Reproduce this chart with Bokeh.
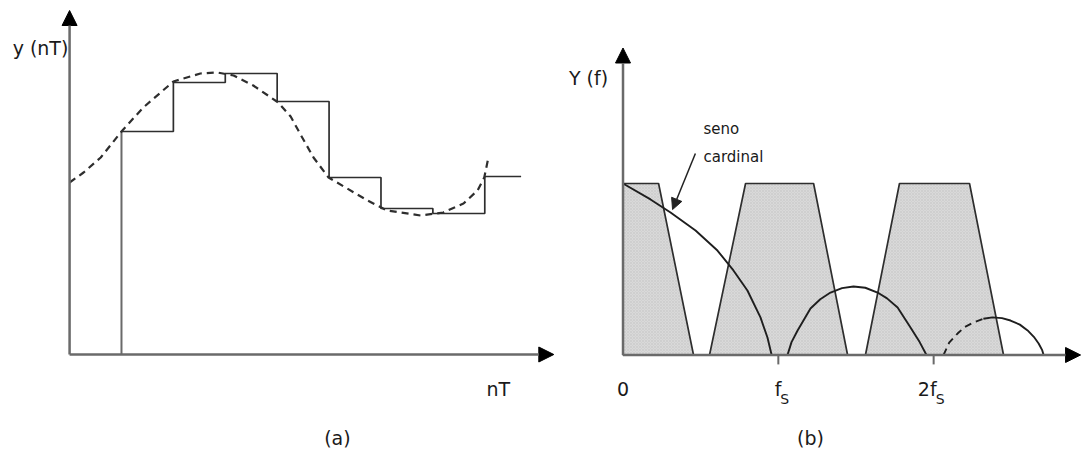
from bokeh.plotting import figure
from bokeh.layouts import row
from bokeh.models import Range1d, Arrow, NormalHead, Label
from bokeh.embed import file_html
from bokeh.resources import INLINE

# ---------------- Panel (a): sample-and-hold ----------------
sample_n = [1, 2, 3, 4, 5, 6, 7, 8]
sample_y = [2.23, 2.72, 2.81, 2.53, 1.77, 1.46, 1.41, 1.78]
hold_end = 8.7

curve_n = [0.0, 0.27, 0.60, 1.0, 1.42, 2.0, 2.52, 2.85, 3.16, 3.54, 4.02, 4.26,
           4.45, 4.70, 4.99, 5.35, 5.74, 6.12, 6.76, 7.20, 7.59, 7.86, 7.99, 8.07]
curve_y = [1.72, 1.82, 1.97, 2.23, 2.47, 2.73, 2.81, 2.82, 2.79, 2.69, 2.52, 2.38,
           2.20, 1.97, 1.77, 1.66, 1.54, 1.44, 1.39, 1.42, 1.51, 1.64, 1.77, 1.97]

a_xaxis_end = 9.33
a_yaxis_end = 3.44

# ---------------- Panel (b): spectrum ----------------
trap_f = [[0.0, 0.0, 0.229, 0.454],
          [0.557, 0.789, 1.227, 1.446],
          [1.561, 1.780, 2.231, 2.450]]
trap_Y = [[0.0, 1.0, 1.0, 0.0],
          [0.0, 1.0, 1.0, 0.0],
          [0.0, 1.0, 1.0, 0.0]]

lobe1_f = [0.0, 0.177, 0.306, 0.467, 0.608, 0.711, 0.801, 0.885, 0.930, 0.957]
lobe1_Y = [1.0, 0.907, 0.831, 0.726, 0.609, 0.493, 0.376, 0.219, 0.102, 0.0]
lobe2_f = [1.059, 1.085, 1.124, 1.207, 1.27, 1.336, 1.41, 1.484, 1.56, 1.639, 1.70,
           1.768, 1.851, 1.91, 1.954]
lobe2_Y = [0.0, 0.075, 0.143, 0.271, 0.325, 0.364, 0.390, 0.399, 0.392, 0.364, 0.330,
           0.277, 0.160, 0.075, 0.0]
lobe3_dash_f = [2.064, 2.10, 2.154, 2.20, 2.257, 2.32]
lobe3_dash_Y = [0.0, 0.072, 0.125, 0.163, 0.190, 0.211]
lobe3_f = [2.32, 2.379, 2.44, 2.495, 2.555, 2.605, 2.645, 2.676, 2.698, 2.708]
lobe3_Y = [0.211, 0.219, 0.215, 0.201, 0.177, 0.143, 0.106, 0.067, 0.030, 0.0]

tick_pos = [0, 1, 2]
tick_main = ["0", "f", "2f"]
tick_sub = ["", "S", "S"]

b_xaxis_end = 2.946
b_yaxis_end = 1.79

FONT = "DejaVu Sans"
TXT = "#1a1a1a"
LINE = "#2e2e2e"
AXIS = "#6a6a6a"


def base_fig(w, xr, yr):
    p = figure(width=w, height=450, output_backend="svg", toolbar_location=None,
               x_range=Range1d(*xr), y_range=Range1d(*yr),
               min_border=0, min_border_left=0, min_border_right=0,
               min_border_top=0, min_border_bottom=0)
    p.axis.visible = False
    p.grid.visible = False
    p.outline_line_color = None
    p.background_fill_color = "white"
    p.border_fill_color = "white"
    return p


def axis_arrow(p, x0, y0, x1, y1):
    p.add_layout(Arrow(end=NormalHead(size=15, fill_color="black", line_color="black"),
                       x_start=x0, y_start=y0, x_end=x1, y_end=y1,
                       line_color=AXIS, line_width=2.5))


# ----- panel a -----
pa = base_fig(560, (-1.331, 9.459), (-0.96, 3.54))

sx = [sample_n[0]]
sy = [0.0]
for i, n in enumerate(sample_n):
    nxt = sample_n[i + 1] if i + 1 < len(sample_n) else hold_end
    sx += [n, nxt]
    sy += [sample_y[i], sample_y[i]]
    if i + 1 < len(sample_n):
        sx.append(nxt)
        sy.append(sample_y[i + 1])
pa.line(sx[:2], sy[:2], line_color=AXIS, line_width=2)
pa.line(sx[1:], sy[1:], line_color=LINE, line_width=1.7)
pa.line(curve_n, curve_y, line_color=LINE, line_width=2.2, line_dash="7 5")

axis_arrow(pa, 0, 0, 0, a_yaxis_end)
axis_arrow(pa, 0, 0, a_xaxis_end, 0)

pa.add_layout(Label(x=-0.56, y=3.07, text="y (nT)", text_font=FONT, text_font_size="19px",
                    text_color=TXT, text_align="center", text_baseline="middle"))
pa.add_layout(Label(x=8.26, y=-0.34, text="nT", text_font=FONT, text_font_size="19px",
                    text_color=TXT, text_align="center", text_baseline="middle"))
pa.add_layout(Label(x=5.16, y=-0.83, text="(a)", text_font=FONT, text_font_size="19px",
                    text_color=TXT, text_align="center", text_baseline="middle"))

# ----- panel b -----
pb = base_fig(521, (-0.4025, 2.952), (-0.557, 2.067))

pb.patches(trap_f, trap_Y, fill_color="#d9d9d9", line_color=LINE, line_width=1.7,
           hatch_pattern="x", hatch_scale=3, hatch_color="#c4c4c4", hatch_weight=0.5)
pb.line(lobe1_f, lobe1_Y, line_color="#1e1e1e", line_width=1.9)
pb.line(lobe2_f, lobe2_Y, line_color="#1e1e1e", line_width=1.9)
pb.line(lobe3_dash_f, lobe3_dash_Y, line_color="#1e1e1e", line_width=1.9, line_dash="7 5")
pb.line(lobe3_f, lobe3_Y, line_color="#1e1e1e", line_width=1.9)

tick_x = [t for t in tick_pos if t != 0]
pb.segment(x0=tick_x, y0=[0.0] * len(tick_x), x1=tick_x, y1=[-0.055] * len(tick_x),
           line_color=AXIS, line_width=2)

axis_arrow(pb, 0, 0, 0, b_yaxis_end)
axis_arrow(pb, 0, 0, b_xaxis_end, 0)

for t, m, s in zip(tick_pos, tick_main, tick_sub):
    if s:
        pb.add_layout(Label(x=t, y=-0.201, text=m, x_offset=3, text_font=FONT,
                            text_font_size="19px", text_color=TXT, text_align="right",
                            text_baseline="alphabetic"))
        pb.add_layout(Label(x=t, y=-0.201, text=s, x_offset=2, y_offset=-10, text_font=FONT,
                            text_font_size="14px", text_color=TXT, text_align="left",
                            text_baseline="alphabetic"))
    else:
        pb.add_layout(Label(x=t, y=-0.201, text=m, text_font=FONT, text_font_size="19px",
                            text_color=TXT, text_align="center", text_baseline="alphabetic"))

pb.add_layout(Label(x=-0.222, y=1.618, text="Y (f)", text_font=FONT, text_font_size="19px",
                    text_color=TXT, text_align="center", text_baseline="middle"))
pb.add_layout(Label(x=1.207, y=-0.487, text="(b)", text_font=FONT, text_font_size="19px",
                    text_color=TXT, text_align="center", text_baseline="middle"))
pb.add_layout(Label(x=0.518, y=1.315, text="seno", text_font=FONT, text_font_size="15px",
                    text_color=TXT, text_align="left", text_baseline="middle"))
pb.add_layout(Label(x=0.518, y=1.152, text="cardinal", text_font=FONT, text_font_size="15px",
                    text_color=TXT, text_align="left", text_baseline="middle"))
pb.add_layout(Arrow(end=NormalHead(size=11, fill_color="#222222", line_color="#222222"),
                    x_start=0.466, y_start=1.175, x_end=0.319, y_end=0.848,
                    line_color="#222222", line_width=1.5))

layout = row(pa, pb)
open("out.html", "w").write(file_html(layout, INLINE))
